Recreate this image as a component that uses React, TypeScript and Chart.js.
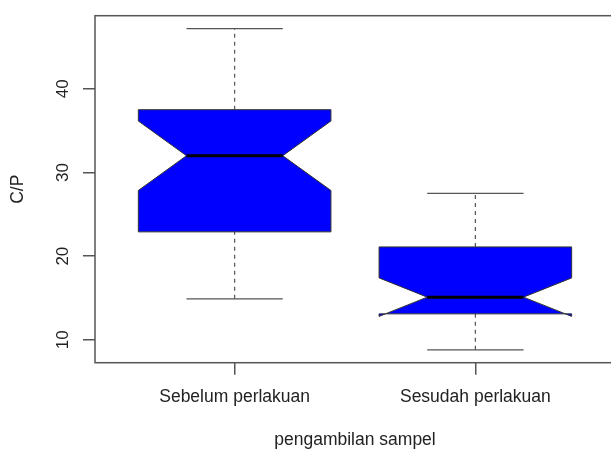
import React, { useEffect, useRef } from "react";
import { Chart, registerables } from "chart.js";

Chart.register(...registerables);

// Five-number summaries and notch limits of the C/P ratio per sampling stage
const groups = ["Sebelum perlakuan", "Sesudah perlakuan"];
const whiskerLow = [14.9, 8.8];
const q1 = [22.9, 13.1];
const median = [32.0, 15.1];
const q3 = [37.5, 21.1];
const whiskerHigh = [47.2, 27.5];
const notchLow = [27.85, 12.8];
const notchHigh = [36.15, 17.4];
const yTicks = [10, 20, 30, 40];

const FONT = "'Liberation Sans', Arial, sans-serif";
const TEXT = "#222";
const LINE = "#555";
const BOX_WIDTH = 0.8;

// axis limits padded by 4% like the classic R plotting device
const dataMin = Math.min(...whiskerLow);
const dataMax = Math.max(...whiskerHigh);
const yPad = (dataMax - dataMin) * 0.04;
const xPad = groups.length * 0.04;

const boxPlotPlugin = {
  id: "boxPlots",
  afterDatasetsDraw(chart: any) {
    const { ctx, chartArea, scales } = chart;
    const xs = scales.x;
    const ys = scales.y;
    const px = (v: number) => xs.getPixelForValue(v);
    const py = (v: number) => ys.getPixelForValue(v);

    ctx.save();
    groups.forEach((_, i) => {
      const c = i + 1;
      // dashed whiskers
      ctx.strokeStyle = LINE;
      ctx.lineWidth = 1.2;
      ctx.setLineDash([4, 4]);
      ctx.beginPath();
      ctx.moveTo(px(c), py(whiskerLow[i]));
      ctx.lineTo(px(c), py(q1[i]));
      ctx.moveTo(px(c), py(q3[i]));
      ctx.lineTo(px(c), py(whiskerHigh[i]));
      ctx.stroke();
      ctx.setLineDash([]);
      // staples
      ctx.beginPath();
      ctx.moveTo(px(c - BOX_WIDTH / 4), py(whiskerLow[i]));
      ctx.lineTo(px(c + BOX_WIDTH / 4), py(whiskerLow[i]));
      ctx.moveTo(px(c - BOX_WIDTH / 4), py(whiskerHigh[i]));
      ctx.lineTo(px(c + BOX_WIDTH / 4), py(whiskerHigh[i]));
      ctx.stroke();

      // notched box
      const fx = [-0.5, 0.5, 0.5, 0.25, 0.5, 0.5, -0.5, -0.5, -0.25, -0.5];
      const fy = [q1[i], q1[i], notchLow[i], median[i], notchHigh[i], q3[i], q3[i], notchHigh[i], median[i], notchLow[i]];
      ctx.beginPath();
      fx.forEach((f, k) => {
        const x = px(c + f * BOX_WIDTH);
        const y = py(fy[k]);
        if (k === 0) ctx.moveTo(x, y);
        else ctx.lineTo(x, y);
      });
      ctx.closePath();
      ctx.fillStyle = "#0000FF";
      ctx.fill();
      ctx.strokeStyle = "#333";
      ctx.lineWidth = 1;
      ctx.stroke();

      // median bar
      ctx.strokeStyle = "#000";
      ctx.lineWidth = 3;
      ctx.beginPath();
      ctx.moveTo(px(c - BOX_WIDTH / 4), py(median[i]));
      ctx.lineTo(px(c + BOX_WIDTH / 4), py(median[i]));
      ctx.stroke();
    });

    // frame around the plotting region
    ctx.strokeStyle = LINE;
    ctx.lineWidth = 1.5;
    ctx.strokeRect(chartArea.left, chartArea.top, chartArea.right - chartArea.left, chartArea.bottom - chartArea.top);

    // rotated y tick labels
    ctx.fillStyle = TEXT;
    ctx.font = `17px ${FONT}`;
    ctx.textAlign = "center";
    ctx.textBaseline = "alphabetic";
    yTicks.forEach((t) => {
      ctx.save();
      ctx.translate(67.5, py(t));
      ctx.rotate(-Math.PI / 2);
      ctx.fillText(String(t), 0, 0);
      ctx.restore();
    });
    ctx.restore();
  },
};

export default function App() {
  const canvasRef = useRef<HTMLCanvasElement>(null);

  useEffect(() => {
    const canvas = canvasRef.current;
    if (!canvas) return;
    const chart = new Chart(canvas, {
      type: "scatter",
      data: { datasets: [{ data: [], pointRadius: 0 }] },
      options: {
        responsive: false,
        animation: false,
        devicePixelRatio: 1,
        layout: { padding: { left: 0, top: 15.7, right: 25, bottom: 0 } },
        plugins: { legend: { display: false }, tooltip: { enabled: false } },
        scales: {
          x: {
            type: "linear",
            min: 0.5 - xPad,
            max: groups.length + 0.5 + xPad,
            afterBuildTicks: (scale: any) => {
              scale.ticks = groups.map((_, i) => ({ value: i + 1 }));
            },
            afterFit: (scale: any) => {
              scale.height = 88.3;
            },
            ticks: {
              autoSkip: false,
              maxRotation: 0,
              padding: 11.5,
              color: TEXT,
              font: { family: FONT, size: 17.5 },
              callback: (v: any) => groups[Number(v) - 1] ?? "",
            },
            grid: { display: true, drawOnChartArea: false, drawTicks: true, tickLength: 12, color: LINE, lineWidth: 1.5 },
            border: { display: false },
            title: {
              display: true,
              text: "pengambilan sampel",
              color: TEXT,
              font: { family: FONT, size: 17.5 },
              padding: { top: 0, bottom: 0.5 },
            },
          },
          y: {
            type: "linear",
            min: dataMin - yPad,
            max: dataMax + yPad,
            afterBuildTicks: (scale: any) => {
              scale.ticks = yTicks.map((v) => ({ value: v }));
            },
            afterFit: (scale: any) => {
              scale.width = 95;
            },
            ticks: { display: false },
            grid: { display: true, drawOnChartArea: false, drawTicks: true, tickLength: 12, color: LINE, lineWidth: 1.5 },
            border: { display: false },
            title: {
              display: true,
              text: "C/P",
              color: TEXT,
              font: { family: FONT, size: 17.5 },
              padding: { top: 7.8, bottom: 0 },
            },
          },
        },
      },
      plugins: [boxPlotPlugin],
    });
    return () => chart.destroy();
  }, []);

  return (
    <div style={{ position: "fixed", left: 0, top: 0, width: 611, height: 451, overflow: "hidden", background: "#fff" }}>
      <canvas ref={canvasRef} width={640} height={451} style={{ display: "block" }} />
    </div>
  );
}
